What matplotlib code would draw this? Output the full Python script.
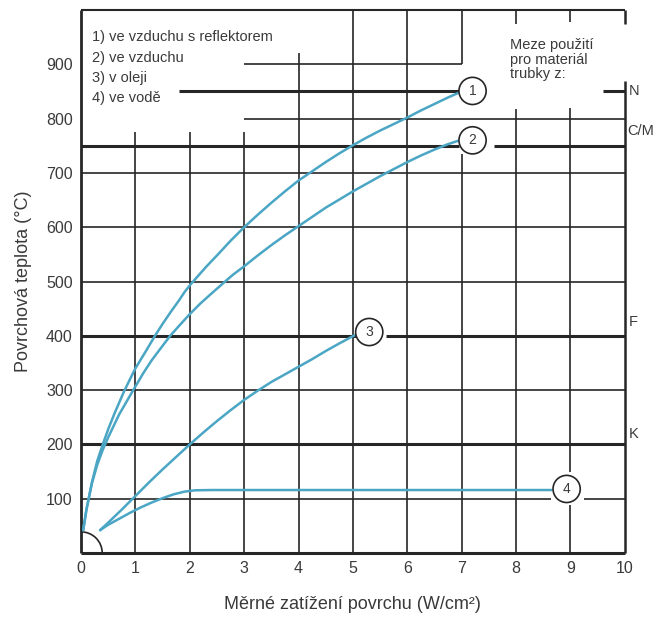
import matplotlib
matplotlib.use('Agg')
import matplotlib.pyplot as plt
from matplotlib.patches import Ellipse, Arc

plt.rcParams['font.family'] = ['Liberation Sans', 'DejaVu Sans']

# curves (x in W/cm2, y in degC)
c1_x = [0.04, 0.1, 0.2, 0.3, 0.4, 0.5, 0.62, 0.78, 0.9, 1.0, 1.2, 1.36, 1.5, 1.65, 1.8, 1.9, 2.0,
        2.15, 2.3, 2.5, 2.75, 3.0, 3.25, 3.5, 3.75, 4.0, 4.25, 4.5, 4.75, 5.0, 5.25, 5.5, 5.75,
        6.0, 6.25, 6.5, 6.75, 6.93]
c1_y = [42, 80, 130, 170, 200, 228, 258, 295, 320, 340, 373, 400, 422, 444, 465, 480, 493,
        510, 527, 548, 575, 600, 623, 645, 666, 686, 703, 720, 736, 751, 765, 778, 790,
        802, 815, 827, 839, 847]
c2_x = [0.04, 0.1, 0.2, 0.3, 0.4, 0.5, 0.7, 0.96, 1.15, 1.3, 1.45, 1.64, 1.8, 2.0, 2.2, 2.4,
        2.65, 2.8, 3.0, 3.25, 3.5, 3.75, 3.97, 4.25, 4.5, 4.75, 5.0, 5.25, 5.5, 5.75, 6.0,
        6.25, 6.5, 6.75, 6.93]
c2_y = [42, 80, 128, 163, 190, 213, 255, 300, 332, 355, 375, 400, 418, 440, 460, 478,
        500, 513, 528, 548, 567, 585, 600, 619, 636, 651, 666, 680, 694, 707, 720,
        732, 743, 753, 759]
c3_x = [0.35, 0.5, 0.75, 1.0, 1.25, 1.5, 1.75, 2.0, 2.25, 2.5, 2.75, 3.0, 3.25, 3.5, 3.75,
        4.0, 4.25, 4.5, 4.75, 5.03]
c3_y = [42, 56, 80, 105, 130, 154, 177, 200, 222, 243, 263, 282, 299, 315, 329,
        343, 357, 372, 386, 401]
c4_x = [0.35, 0.5, 0.7, 0.9, 1.1, 1.3, 1.5, 1.7, 1.9, 2.1, 2.4, 8.65]
c4_y = [42, 52, 63, 74, 84, 93, 101, 108, 113, 115.5, 116, 116]

curve_ids = ['1', '2', '3', '4']
marker_x = [7.2, 7.2, 5.3, 8.93]
marker_y = [851, 760, 407, 118]

legend_lines = ['1) ve vzduchu s reflektorem', '2) ve vzduchu', '3) v oleji', '4) ve vodě']
limit_labels = ['N', 'C/M', 'F', 'K']
limit_temps = [850, 750, 400, 200]

x_ticks = list(range(0, 11))
y_ticks = [100, 200, 300, 400, 500, 600, 700, 800, 900]

grid_c = '#262626'
curve_c = '#4aa6c4'
text_c = '#3a3a3a'
thin = 1.2
thick = 2.2

fig = plt.figure(figsize=(6.64, 6.19), dpi=100)
ax = fig.add_axes([0.122, 0.1066, 0.819, 0.8772])
ax.set_xlim(0, 10)
ax.set_ylim(0, 1000)
for s in ax.spines.values():
    s.set_visible(False)

# vertical grid, with the gaps of the original drawing
vsegs = {1: [(0, 775)], 2: [(0, 775)], 3: [(0, 775)], 4: [(0, 920)],
         5: [(0, 1000)], 6: [(0, 1000)], 7: [(0, 735), (900, 1000)],
         8: [(0, 818), (975, 1000)], 9: [(0, 88), (150, 820), (978, 1000)],
         10: [(0, 870), (975, 1000)]}
for xv, segs in vsegs.items():
    for y0, y1 in segs:
        ax.vlines(xv, y0, y1, color=grid_c, lw=thin if xv < 10 else 1.8, clip_on=False, zorder=1)
ax.vlines(0, 0, 1000, color=grid_c, lw=2.0, clip_on=False, zorder=1)

# horizontal grid
hsegs = [(1000, 0, 10, 1.5), (900, 3, 7, thin), (850, 1.8, 6.95, thick), (850, 9.6, 10, thick),
         (800, 3, 10, thin), (750, 0, 6.95, thick), (750, 7.6, 10, thick),
         (700, 0, 10, thin), (600, 0, 10, thin), (500, 0, 10, thin),
         (400, 0, 5.05, thick), (400, 5.6, 10, thick), (300, 0, 10, thin),
         (200, 0, 10, thick), (100, 0, 8.65, thin), (100, 9.25, 10, thin),
         (0, 0, 10, thick)]
for yv, x0, x1, lw in hsegs:
    ax.hlines(yv, x0, x1, color=grid_c, lw=lw, clip_on=False, zorder=1)

# origin arc
ax.add_patch(Arc((0, 0), 0.78, 78, theta1=0, theta2=90, color=grid_c, lw=1.2, zorder=2))

# curves
for cx, cy in [(c1_x, c1_y), (c2_x, c2_y), (c3_x, c3_y), (c4_x, c4_y)]:
    ax.plot(cx, cy, color=curve_c, lw=1.8, zorder=2, solid_capstyle='round', solid_joinstyle='round')

# numbered circles
for lab, mx, my in zip(curve_ids, marker_x, marker_y):
    ax.add_patch(Ellipse((mx, my), 0.5, 50, fc='white', ec=grid_c, lw=1.2, zorder=3))
    ax.text(mx, my, lab, ha='center', va='center', fontsize=10, color=text_c, zorder=4)

# legend text
for i, t in enumerate(legend_lines):
    ax.text(0.2, 950 - i * 37.5, t, ha='left', va='center', fontsize=10.5, color=text_c)

ax.text(7.88, 948, 'Meze použití\npro materiál\ntrubky z:', ha='left', va='top',
        fontsize=10.5, color=text_c, linespacing=1.05)

# material limit labels
lab_pos = {'N': (10.08, 850), 'C/M': (10.05, 778), 'F': (10.08, 425), 'K': (10.08, 220)}
for lab, t in zip(limit_labels, limit_temps):
    px, py = lab_pos[lab]
    ax.text(px, py, lab, ha='left', va='center', fontsize=10.5, color=text_c, clip_on=False)

ax.set_xticks(x_ticks)
ax.set_yticks(y_ticks)
ax.tick_params(length=0, labelsize=11.5, labelcolor=text_c, pad=6)
ax.set_xlabel('Měrné zatížení povrchu (W/cm²)', fontsize=13, color=text_c, labelpad=14)
ax.set_ylabel('Povrchová teplota (°C)', fontsize=13, color=text_c, labelpad=10)

fig.savefig('out.png', dpi=100)
